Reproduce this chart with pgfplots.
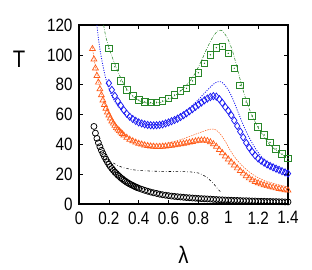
\documentclass[border=0pt]{standalone}
\usepackage{fontspec}
\setmainfont[FakeStretch=0.85]{Liberation Sans}
\usepackage{pgfplots}
\pgfplotsset{compat=1.18}
\definecolor{cgreen}{rgb}{0.16,0.53,0.16}
\definecolor{cblue}{rgb}{0.1,0.1,0.95}
\definecolor{corange}{rgb}{1,0.36,0.1}
\begin{document}
\begin{tikzpicture}
\useasboundingbox (0,0) rectangle (312bp,270bp);
\begin{axis}[
  at={(79bp,66bp)}, anchor=south west,
  scale only axis, width=209bp, height=179bp,
  xmin=0, xmax=1.4, ymin=0, ymax=120,
  xtick={0,0.2,0.4,0.6,0.8,1,1.2,1.4},
  xticklabels={0,0.2,0.4,0.6,0.8,1,1.2,1.4},
  ytick={0,20,40,60,80,100,120},
  tick align=inside, major tick length=4bp,
  minor tick num=0,
  axis line style={line width=1.1pt},
  every tick/.style={black, line width=0.6pt},
  tick label style={font=\fontsize{18}{20}\selectfont},
  /pgf/number format/assume math mode=true,
  xticklabel style={yshift=-4bp},
  yticklabel style={xshift=-3bp},
  xlabel={λ}, ylabel={T},
  label style={font=\fontsize{24}{26}\selectfont},
  xlabel style={at={(axis description cs:0.5,-0.285)}, anchor=center},
  ylabel style={at={(axis description cs:-0.287,0.807)}, anchor=center, rotate=-90},
  clip=false,
]
% black circles
\addplot[black, line width=0.75pt, only marks, mark=o, mark size=3bp] coordinates {
(0.10,52)(0.11,47.5)(0.12,44)(0.13,41)(0.14,38.4)(0.15,36)(0.16,33.8)(0.17,31.8)(0.18,30)(0.19,28.2)
(0.20,26.6)(0.21,25.1)(0.22,23.8)(0.23,22.6)(0.24,21.4)(0.25,20.4)(0.26,19.4)(0.27,18.5)(0.28,17.6)(0.29,16.8)
(0.30,16)(0.31,15.3)(0.32,14.6)(0.33,14)(0.34,13.4)(0.35,12.9)(0.36,12.4)(0.37,11.9)(0.38,11.4)(0.39,11)
(0.40,10.6)(0.42,9.9)(0.44,9.2)(0.46,8.6)(0.48,8)(0.50,7.5)(0.52,7.1)(0.54,6.6)(0.56,6.2)(0.58,5.9)
(0.60,5.6)(0.62,5.3)(0.64,5.1)(0.66,4.9)(0.68,4.7)(0.70,4.5)(0.72,4.3)(0.74,4.2)(0.76,4.0)(0.78,3.9)
(0.80,3.7)(0.82,3.6)(0.84,3.5)(0.86,3.4)(0.88,3.3)(0.90,3.1)(0.92,3.0)(0.94,2.9)(0.96,2.8)(0.98,2.7)
(1.00,2.6)(1.02,2.5)(1.04,2.4)(1.06,2.4)(1.08,2.3)(1.10,2.2)(1.12,2.2)(1.14,2.1)(1.16,2.0)(1.18,2.0)
(1.20,1.9)(1.22,1.8)(1.24,1.8)(1.26,1.7)(1.28,1.7)(1.30,1.6)(1.32,1.6)(1.34,1.5)(1.36,1.5)(1.38,1.4)(1.40,1.4)
};
% black dash-dot line
\addplot[black, line width=0.55pt, dash pattern=on 2.5pt off 2pt on 0.6pt off 2pt, no marks, smooth] coordinates {
(0.23,27.5)(0.26,25.8)(0.30,24.3)(0.35,23.2)(0.40,22.5)(0.50,22)(0.60,21.8)(0.70,21.7)(0.78,21.2)(0.82,20)(0.86,17.5)(0.90,13.8)(0.93,10)(0.95,8)
};
% orange triangles
\addplot[corange, line width=0.7pt, only marks, mark=triangle, mark size=3.4bp] coordinates {
(0.09,104)(0.10,97)(0.11,91)(0.12,86)(0.13,81.5)(0.14,77)(0.15,73)(0.16,69.5)(0.17,66.5)(0.18,64)(0.19,61.5)
(0.20,59.5)(0.21,57.5)(0.22,55.5)(0.23,54)(0.24,52.5)(0.25,51)(0.26,50)(0.27,49)(0.28,48)(0.29,47)
(0.30,46)(0.32,44.5)(0.34,43.2)(0.36,42.2)(0.38,41.3)(0.40,40.5)(0.42,40)(0.44,39.4)(0.46,39)(0.48,38.7)
(0.50,38.5)(0.52,38.4)(0.54,38.4)(0.56,38.5)(0.58,38.7)(0.60,39)(0.62,39.2)(0.64,39.5)(0.66,39.8)(0.68,40.2)
(0.70,40.5)(0.72,40.9)(0.74,41.3)(0.76,41.7)(0.78,42.1)(0.80,42.5)(0.82,42.7)(0.84,42.7)(0.86,42.3)(0.88,41.5)
(0.90,40.2)(0.92,38.5)(0.94,36.3)(0.96,34.2)(0.98,32)(1.00,30)(1.02,28)(1.04,26)(1.06,24)(1.08,22.2)
(1.10,20.5)(1.12,18.8)(1.14,17.3)(1.16,16)(1.18,14.9)(1.20,14)(1.22,13.3)(1.24,12.7)(1.26,12.1)(1.28,11.6)
(1.30,11.1)(1.32,10.6)(1.34,10.2)(1.36,9.8)(1.38,9.4)(1.40,9.1)
};
% orange thin dashed line
\addplot[corange, line width=0.5pt, dash pattern=on 1.5pt off 1pt, no marks, smooth] coordinates {
(0.09,105)(0.10,98)(0.12,87)(0.14,78)(0.16,70.5)(0.18,65)(0.20,60.5)(0.25,52)(0.30,47)(0.35,43.8)
(0.40,41.8)(0.45,40.6)(0.50,40.2)(0.55,40.3)(0.60,41)(0.65,42.2)(0.70,43.8)(0.75,45.6)(0.80,47.5)(0.85,49.3)
(0.89,50.3)(0.92,49.5)(0.95,46.5)(0.98,42)(1.01,36.5)(1.05,30.5)(1.10,25)(1.15,20.8)(1.20,17.6)(1.25,15.5)
(1.30,13.9)(1.35,12.6)(1.40,11.5)
};
% blue diamonds
\addplot[cblue, line width=0.75pt, only marks, mark=diamond, mark size=3.6bp] coordinates {
(0.20,81)(0.22,76.5)(0.24,72.5)(0.26,69)(0.28,66)(0.30,63)(0.32,60.5)(0.34,58.5)(0.36,57)(0.38,55.7)
(0.40,54.7)(0.42,54)(0.44,53.4)(0.46,53)(0.48,52.8)(0.50,52.7)(0.52,52.8)(0.54,53)(0.56,53.4)(0.58,54)
(0.60,54.7)(0.62,55.5)(0.64,56.3)(0.66,57.2)(0.68,58.3)(0.70,59.5)(0.72,60.8)(0.74,62.2)(0.76,63.6)(0.78,65.1)
(0.80,66.6)(0.82,68)(0.84,69.5)(0.86,70.7)(0.88,71.7)(0.90,72.3)(0.92,72)(0.94,70.3)(0.96,67.8)(0.98,65)
(1.00,62.5)(1.02,59.5)(1.04,56)(1.06,52.3)(1.08,48.5)(1.10,44.7)(1.12,41)(1.14,37.8)(1.16,35)(1.18,32.5)
(1.20,30.5)(1.22,29)(1.24,27.7)(1.26,26.5)(1.28,25.5)(1.30,24.6)(1.32,23.7)(1.34,22.9)(1.36,22)(1.38,21.2)(1.40,20.4)
};
% blue dotted line
\addplot[cblue, line width=0.85pt, dash pattern=on 1pt off 1.4pt, no marks, smooth] coordinates {
(0.12,120)(0.13,111)(0.14,104)(0.15,98)(0.16,93)(0.17,88)(0.18,84)(0.20,77.5)(0.22,72.5)(0.25,67)
(0.30,61)(0.35,57)(0.40,54.7)(0.45,53.5)(0.50,53.2)(0.55,53.7)(0.60,55.3)(0.65,57.8)(0.70,61.2)(0.75,65.3)
(0.80,70)(0.85,75.3)(0.90,80.3)(0.93,82)(0.95,82)(0.97,80.5)(1.00,76.5)(1.03,70.5)(1.06,63)(1.10,53)
(1.14,44.5)(1.18,37.5)(1.22,32)(1.26,28.3)(1.30,25.8)(1.35,23.5)(1.40,21.7)
};
% green squares
\addplot[cgreen, line width=0.9pt, only marks, mark=square, mark size=3.3bp] coordinates {
(0.20,104.4)(0.24,92)(0.28,82.5)(0.32,76.5)(0.36,72.4)(0.40,69.7)(0.44,68.4)(0.48,68)(0.52,68.2)(0.56,69)
(0.60,70.8)(0.64,73)(0.68,75.9)(0.72,77.5)(0.76,82.5)(0.80,88)(0.84,94.3)(0.88,100)(0.92,104.8)(0.96,105.5)
(1.00,101)(1.04,91)(1.08,79.5)(1.12,68.4)(1.16,59)(1.20,51.7)(1.24,46.3)(1.28,41.3)(1.32,36.9)(1.36,33.5)(1.40,30.6)
};
\addplot[cgreen, only marks, mark=*, mark size=0.45bp] coordinates {
(0.20,104.4)(0.24,92)(0.28,82.5)(0.32,76.5)(0.36,72.4)(0.40,69.7)(0.44,68.4)(0.48,68)(0.52,68.2)(0.56,69)
(0.60,70.8)(0.64,73)(0.68,75.9)(0.72,77.5)(0.76,82.5)(0.80,88)(0.84,94.3)(0.88,100)(0.92,104.8)(0.96,105.5)
(1.00,101)(1.04,91)(1.08,79.5)(1.12,68.4)(1.16,59)(1.20,51.7)(1.24,46.3)(1.28,41.3)(1.32,36.9)(1.36,33.5)(1.40,30.6)
};
% green dash-dot line
\addplot[cgreen, line width=0.55pt, dash pattern=on 3pt off 1.5pt on 0.6pt off 1.5pt, no marks, smooth] coordinates {
(0.165,120)(0.18,112)(0.20,105)(0.22,99)(0.24,94)(0.26,89)(0.28,84.5)(0.30,80.5)(0.32,77)(0.34,74.5)
(0.36,72.3)(0.38,70.7)(0.40,69.4)(0.43,68.2)(0.46,67.6)(0.50,67.5)(0.54,68)(0.58,69.3)(0.62,71.2)(0.66,73.8)
(0.70,77.5)(0.74,82)(0.78,88)(0.82,96)(0.86,105)(0.90,112.5)(0.93,116)(0.95,116.5)(0.97,115)(1.00,110)
(1.03,102)(1.06,91)(1.09,79.5)(1.12,69.5)(1.15,61.5)(1.18,55)(1.21,49.5)(1.24,45)(1.28,39.5)(1.32,36)
(1.36,33)(1.40,30.5)
};
\end{axis}
\end{tikzpicture}
\end{document}
